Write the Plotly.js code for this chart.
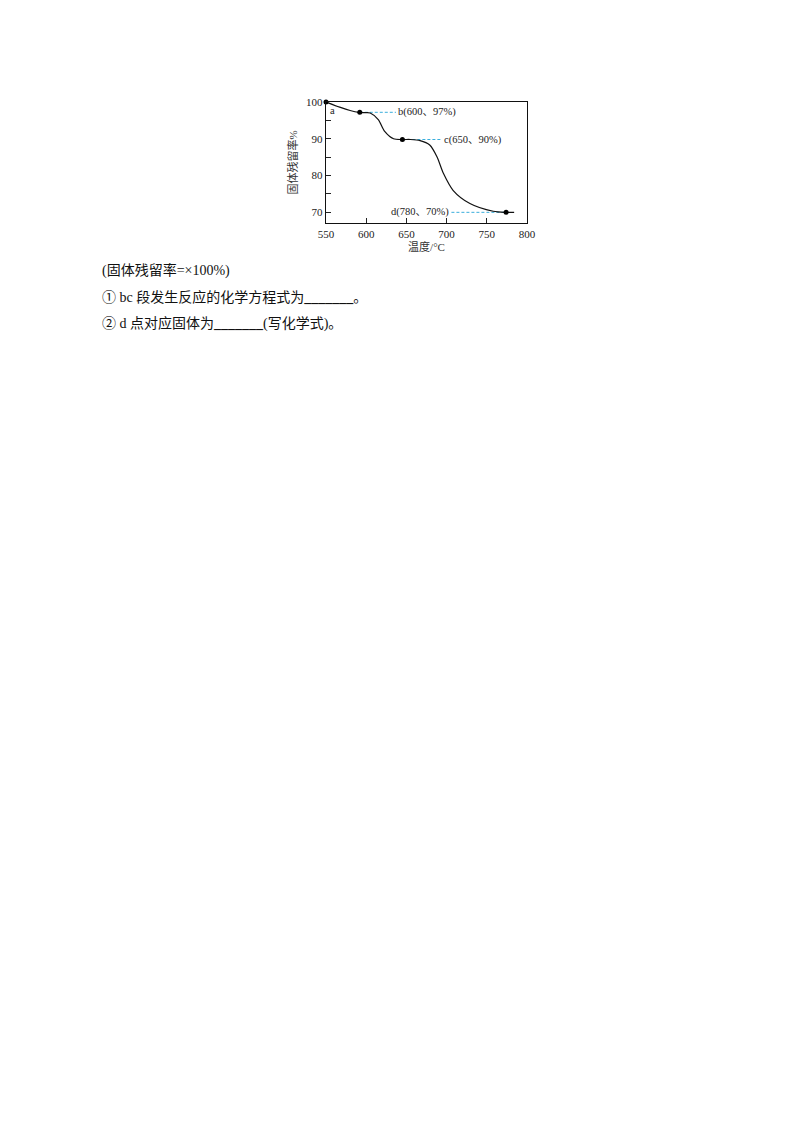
<!DOCTYPE html>
<html>
<head>
<meta charset="utf-8">
<script src="https://cdn.plot.ly/plotly-3.0.1.min.js"></script>
<style>
  html, body { margin: 0; padding: 0; background: #fff; }
  #chart { width: 800px; height: 1132px; }
</style>
</head>
<body>
<div id="chart"></div>
<script>
// кривая (温度, 固体残留率)
var curveX = [550, 567, 580, 591, 600, 605, 615, 623, 634, 645, 655, 667, 679, 688, 696, 708, 729, 758, 774, 784];
var curveY = [100, 98.6, 97.7, 97.2, 97.1, 97.0, 95.2, 92.0, 90.0, 89.8, 89.8, 89.5, 88.3, 85.1, 80.6, 76.0, 72.4, 70.3, 70.0, 70.0];

// отмеченные точки a, b, c, d
var dotX = [550, 592, 645, 774];
var dotY = [100, 97.2, 89.8, 70.0];

// подписи точек
var labelText = ['b(600、97%)', 'c(650、90%)', 'd(780、70%)'];
var labelX = [637, 694, 706];
var labelY = [97.2, 89.8, 70.0];
var labelAnchor = ['left', 'left', 'right'];
// пунктир от точки до подписи
var guideX = [[592, 637], [645, 694], [706, 774]];
var guideY = [[97.2, 97.2], [89.8, 89.8], [70.0, 70.0]];

var xTicks = [550, 600, 650, 700, 750, 800];
var yTicks = [70, 80, 90, 100];

var lines = [
  '(固体残留率=×100%)',
  '① bc 段发生反应的化学方程式为<b>_______</b>。',
  '② d 点对应固体为<b>_______</b>(写化学式)。'
];

var serif = '"Liberation Serif", "Times New Roman", "Noto Sans CJK SC", serif';
var cyan = '#3aaedc';

var data = [];

// пунктирные линии
for (var i = 0; i < guideX.length; i++) {
  data.push({
    x: guideX[i],
    y: guideY[i],
    type: 'scatter',
    mode: 'lines',
    line: {color: cyan, width: 1, dash: '3px,2px'},
    hoverinfo: 'skip',
    showlegend: false
  });
}

// кривая
data.push({
  x: curveX,
  y: curveY,
  type: 'scatter',
  mode: 'lines',
  line: {color: '#111', width: 1.2, shape: 'spline', smoothing: 0.8},
  showlegend: false
});

// точки
data.push({
  x: dotX,
  y: dotY,
  type: 'scatter',
  mode: 'markers',
  marker: {color: '#000', size: 5},
  cliponaxis: false,
  showlegend: false
});

var annotations = [];
for (var i = 0; i < labelText.length; i++) {
  annotations.push({
    x: labelX[i], y: labelY[i], xref: 'x', yref: 'y',
    text: labelText[i], showarrow: false,
    xanchor: labelAnchor[i], yanchor: 'middle',
    font: {family: serif, size: 10.5, color: '#222'}
  });
}
annotations.push({
  x: 553, y: 97.8, xref: 'x', yref: 'y', text: 'a', showarrow: false,
  xanchor: 'left', yanchor: 'middle',
  font: {family: serif, size: 10.5, color: '#222'}
});

// текст под графиком (paper coords: plot area is 326..527 px, 102..223 px)
var textTop = [270, 297, 323];
for (var i = 0; i < lines.length; i++) {
  annotations.push({
    x: (100 - 326) / 201, y: (223 - textTop[i]) / 121,
    xref: 'paper', yref: 'paper',
    text: lines[i], showarrow: false,
    xanchor: 'left', yanchor: 'middle',
    font: {family: serif, size: 14, color: '#111'}
  });
}

var layout = {
  width: 800,
  height: 1132,
  paper_bgcolor: '#fff',
  plot_bgcolor: '#fff',
  margin: {l: 326, r: 273, t: 102, b: 909},
  showlegend: false,
  xaxis: {
    range: [550, 800],
    tickvals: xTicks,
    ticks: 'inside',
    ticklen: 5,
    tickcolor: '#222',
    showgrid: false,
    zeroline: false,
    showline: true,
    mirror: true,
    linecolor: '#111',
    linewidth: 1.3,
    tickfont: {family: serif, size: 11, color: '#222'},
    title: {text: '温度/°C', standoff: 4, font: {family: serif, size: 11, color: '#333'}}
  },
  yaxis: {
    range: [67.1, 100],
    tickvals: yTicks,
    ticks: 'inside',
    ticklen: 5,
    tickcolor: '#222',
    minor: {dtick: 5, ticks: 'inside', ticklen: 5, tickcolor: '#222', showgrid: false},
    showgrid: false,
    zeroline: false,
    showline: true,
    mirror: true,
    linecolor: '#111',
    linewidth: 1.3,
    tickfont: {family: serif, size: 11, color: '#222'},
    title: {text: '固体残留率%', standoff: 6, font: {family: serif, size: 11, color: '#333'}}
  },
  annotations: annotations
};

Plotly.newPlot('chart', data, layout, {displayModeBar: false, staticPlot: true});
</script>
</body>
</html>
